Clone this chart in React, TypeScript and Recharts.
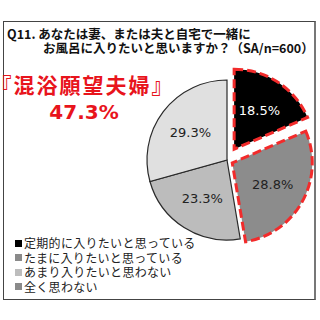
import { PieChart, Pie, Cell } from 'recharts'

const categories = [
  '定期的に入りたいと思っている',
  'たまに入りたいと思っている',
  'あまり入りたいと思わない',
  '全く思わない',
]
const shares = [18.5, 28.8, 23.3, 29.3]
const sliceColors = ['#000000', '#8c8c8c', '#bcbcbc', '#e0e0e0']
const legendColors = ['#000000', '#8a8a8a', '#bdbdbd', '#8a8a8a']
const labelColors = ['#ffffff', '#222222', '#222222', '#222222']
const exploded = [0, 1]
const explodeDist = [13, 6]

const title1 = 'Q11. あなたは妻、または夫と自宅で一緒に'
const title2 = 'お風呂に入りたいと思いますか？（SA/n=600）'
const highlightName = '『混浴願望夫婦』'
const highlightValue = '47.3%'

const data = categories.map((name, i) => ({ name, value: shares[i] }))

const CX = 222
const CY = 155
const R = 80
const RAD = Math.PI / 180
const total = shares.reduce((a, b) => a + b, 0)

// clockwise from 12 o'clock, mid angle of slice i
function midDeg(i: number) {
  const before = shares.slice(0, i).reduce((a, b) => a + b, 0)
  return ((before + shares[i] / 2) / total) * 360
}

const makeLabel = (only: number[]) => (p: any) => {
  if (!only.includes(p.index)) return null
  const r = 46
  const x = p.cx + r * Math.cos(-p.midAngle * RAD)
  const y = p.cy + r * Math.sin(-p.midAngle * RAD)
  return (
    <text
      x={x}
      y={y}
      fill={labelColors[p.index]}
      textAnchor="middle"
      dominantBaseline="central"
      fontSize={13}
      fontFamily="DejaVu Sans"
    >
      {`${shares[p.index]}%`}
    </text>
  )
}

const base = [0, 1, 2, 3].filter((i) => !exploded.includes(i))

export default function App() {
  return (
    <div
      style={{
        position: 'absolute',
        left: 0,
        top: 0,
        width: 320,
        height: 320,
        background: '#fff',
        fontFamily: '"Noto Sans CJK JP", sans-serif',
      }}
    >
      <div
        style={{
          position: 'absolute',
          left: 3,
          top: 21,
          width: 310,
          height: 277,
          border: '1.5px solid #444',
          borderRightColor: '#777',
          borderRightWidth: 2,
        }}
      />
      <div
        style={{
          position: 'absolute',
          left: 7,
          top: 27,
          fontSize: 12.5,
          fontWeight: 700,
          lineHeight: '14px',
          color: '#111',
          whiteSpace: 'nowrap',
        }}
      >
        <div>{title1}</div>
        <div style={{ paddingLeft: 36 }}>{title2}</div>
      </div>
      <div
        style={{
          position: 'absolute',
          left: 1,
          top: 70,
          fontSize: 21,
          fontWeight: 700,
          lineHeight: '28px',
          letterSpacing: 2,
          fontFeatureSettings: '"halt"',
          color: '#e8141c',
          whiteSpace: 'nowrap',
        }}
      >
        {highlightName}
      </div>
      <div
        style={{
          position: 'absolute',
          left: 34,
          width: 100,
          top: 100,
          textAlign: 'center',
          fontSize: 20,
          fontWeight: 700,
          lineHeight: '24px',
          color: '#e8141c',
          fontFamily: '"DejaVu Sans", sans-serif',
        }}
      >
        {highlightValue}
      </div>

      <div style={{ position: 'absolute', left: 0, top: 0 }}>
        <PieChart width={320} height={320}>
          <Pie
            data={data}
            dataKey="value"
            nameKey="name"
            cx={CX}
            cy={CY}
            outerRadius={R}
            startAngle={90}
            endAngle={-270}
            isAnimationActive={false}
            labelLine={false}
            label={makeLabel(base)}
          >
            {data.map((d, i) => (
              <Cell
                key={d.name}
                fill={base.includes(i) ? sliceColors[i] : 'none'}
                stroke={base.includes(i) ? '#2a2a2a' : 'none'}
                strokeWidth={1.2}
              />
            ))}
          </Pie>
          {exploded.map((k, j) => {
            const a = midDeg(k) * RAD
            const dist = explodeDist[j]
            return (
              <Pie
                key={k}
                data={data}
                dataKey="value"
                nameKey="name"
                cx={CX + dist * Math.sin(a)}
                cy={CY - dist * Math.cos(a)}
                outerRadius={R}
                startAngle={90}
                endAngle={-270}
                isAnimationActive={false}
                labelLine={false}
                label={makeLabel([k])}
              >
                {data.map((d, i) => (
                  <Cell
                    key={d.name}
                    fill={i === k ? sliceColors[i] : 'none'}
                    stroke={i === k ? '#f22b2b' : 'none'}
                    strokeWidth={3}
                    strokeDasharray="9 4"
                  />
                ))}
              </Pie>
            )
          })}
        </PieChart>
      </div>

      <div
        style={{
          position: 'absolute',
          left: 15,
          top: 236,
          fontSize: 12,
          letterSpacing: 0.3,
          lineHeight: '14.5px',
          color: '#222',
          whiteSpace: 'nowrap',
        }}
      >
        {categories.map((c, i) => (
          <div key={c} style={{ display: 'flex', alignItems: 'center' }}>
            <span
              style={{
                display: 'inline-block',
                width: 7,
                height: 7,
                background: legendColors[i],
                marginRight: 2,
              }}
            />
            {c}
          </div>
        ))}
      </div>
    </div>
  )
}
